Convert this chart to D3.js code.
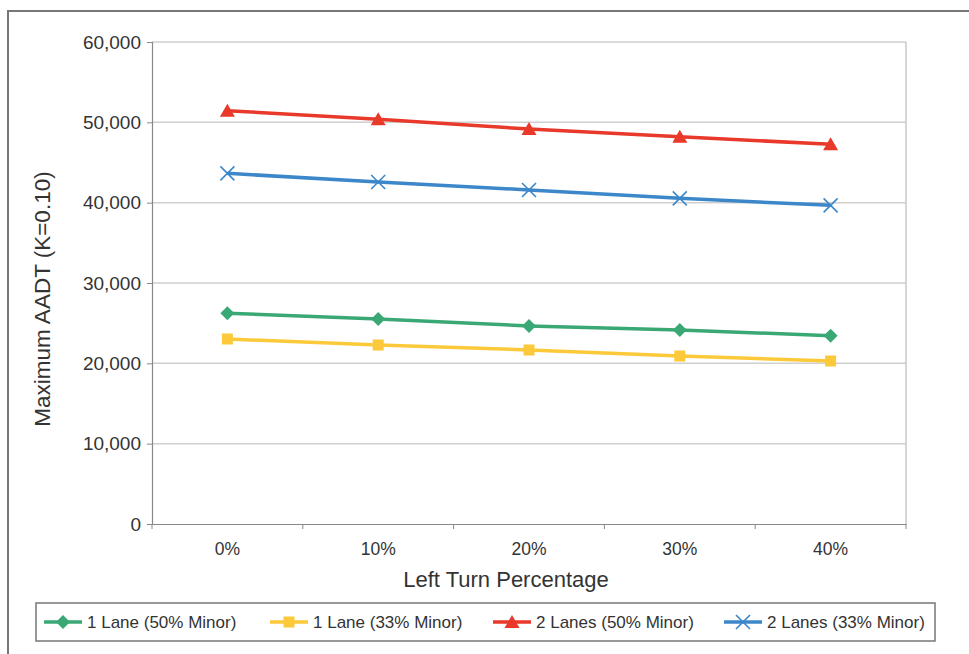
<!DOCTYPE html>
<html>
<head>
<meta charset="utf-8">
<script src="https://cdn.jsdelivr.net/npm/d3@7"></script>
<style>
  html, body { margin: 0; padding: 0; background: #fff; }
  svg { display: block; }
  text { font-family: "Liberation Sans", Arial, sans-serif; fill: #333; }
</style>
</head>
<body>
<svg id="chart" width="969" height="654"></svg>
<script>
const categories = ["0%", "10%", "20%", "30%", "40%"];
const yTicks = [0, 10000, 20000, 30000, 40000, 50000, 60000];
const seriesNames = ["1 Lane (50% Minor)", "1 Lane (33% Minor)", "2 Lanes (50% Minor)", "2 Lanes (33% Minor)"];
const lane1Minor50 = [26230, 25520, 24650, 24150, 23440];
const lane1Minor33 = [23030, 22280, 21660, 20910, 20290];
const lanes2Minor50 = [51450, 50380, 49170, 48210, 47260];
const lanes2Minor33 = [43650, 42570, 41580, 40540, 39670];
const seriesColors = ["#3aa875", "#fcc93a", "#e8392b", "#3b87c9"];
const seriesMarkers = ["diamond", "square", "triangle", "x"];
const seriesValues = [lane1Minor50, lane1Minor33, lanes2Minor50, lanes2Minor33];

(function () {
const svg = d3.select("#chart");
const fmt = d3.format(",");

// outer frame
svg.append("path").attr("d", "M8,654 V11 H969")
  .attr("fill", "none").attr("stroke", "#777").attr("stroke-width", 2);

const pLeft = 152, pRight = 906, pTop = 42, pBottom = 524;
const x = d3.scaleBand().domain(categories).range([pLeft, pRight]);
const y = d3.scaleLinear().domain([0, 60000]).range([pBottom, pTop]);

// grid
svg.append("g").selectAll("line").data(yTicks.filter(d => d > 0)).join("line")
  .attr("x1", pLeft).attr("x2", pRight)
  .attr("y1", d => y(d)).attr("y2", d => y(d))
  .attr("stroke", "#cfcfcf").attr("stroke-width", 1.5);
svg.append("line").attr("x1", pRight).attr("x2", pRight).attr("y1", pTop).attr("y2", pBottom)
  .attr("stroke", "#c8c8c8").attr("stroke-width", 1.5);

// y axis
const yAxis = svg.append("g").attr("transform", `translate(${pLeft},0)`)
  .call(d3.axisLeft(y).tickValues(yTicks).tickFormat(fmt).tickSize(5).tickPadding(6));
yAxis.select(".domain").attr("stroke", "#888").attr("stroke-width", 1.2);
yAxis.selectAll(".tick line").attr("stroke", "#888");
yAxis.selectAll("text").attr("font-size", 19).style("fill", "#333");

// x axis
const xAxis = svg.append("g").attr("transform", `translate(0,${pBottom})`)
  .call(d3.axisBottom(x).tickSize(0).tickPadding(19));
xAxis.select(".domain").attr("stroke", "#888").attr("stroke-width", 1.2);
xAxis.selectAll("text").attr("font-size", 17.5).style("fill", "#333");
const bounds = categories.map(c => x(c)).concat([x(categories[categories.length-1]) + x.bandwidth()]);
svg.append("g").selectAll("line").data(bounds).join("line")
  .attr("x1", d => d).attr("x2", d => d).attr("y1", pBottom).attr("y2", pBottom + 5)
  .attr("stroke", "#888");

// axis titles
svg.append("text").attr("x", 506).attr("y", 587).attr("text-anchor", "middle")
  .attr("font-size", 22).text("Left Turn Percentage");
svg.append("text").attr("transform", "translate(42,299) rotate(-90)")
  .attr("text-anchor", "middle").attr("dominant-baseline", "central")
  .attr("font-size", 22.5).text("Maximum AADT (K=0.10)");

function drawMarker(g, type, color, cx, cy) {
  if (type === "diamond") {
    g.append("path").attr("d", `M${cx},${cy-7} L${cx+7},${cy} L${cx},${cy+7} L${cx-7},${cy} Z`).attr("fill", color);
  } else if (type === "square") {
    g.append("rect").attr("x", cx-5.5).attr("y", cy-5.5).attr("width", 11).attr("height", 11).attr("fill", color);
  } else if (type === "triangle") {
    g.append("path").attr("d", `M${cx},${cy-7} L${cx+7.5},${cy+6} L${cx-7.5},${cy+6} Z`).attr("fill", color);
  } else {
    g.append("path").attr("d", `M${cx-7},${cy-7} L${cx+7},${cy+7} M${cx-7},${cy+7} L${cx+7},${cy-7}`)
      .attr("stroke", color).attr("stroke-width", 1.6).attr("fill", "none");
  }
}

const line = d3.line().x((d, i) => x(categories[i]) + x.bandwidth() / 2).y(d => y(d));
seriesValues.forEach((vals, si) => {
  const g = svg.append("g");
  g.append("path").attr("d", line(vals)).attr("fill", "none")
    .attr("stroke", seriesColors[si]).attr("stroke-width", 3.5);
  vals.forEach((v, i) => drawMarker(g, seriesMarkers[si], seriesColors[si], x(categories[i]) + x.bandwidth() / 2, y(v)));
});

// legend
svg.append("rect").attr("x", 36).attr("y", 603).attr("width", 899).attr("height", 38)
  .attr("fill", "#fff").attr("stroke", "#777").attr("stroke-width", 1.5);
const legendX = [44, 270, 493, 724];
seriesNames.forEach((name, si) => {
  const g = svg.append("g");
  const ly = 622;
  g.append("line").attr("x1", legendX[si]).attr("x2", legendX[si] + 38).attr("y1", ly).attr("y2", ly)
    .attr("stroke", seriesColors[si]).attr("stroke-width", 3.5);
  drawMarker(g, seriesMarkers[si], seriesColors[si], legendX[si] + 19, ly);
  g.append("text").attr("x", legendX[si] + 43).attr("y", ly).attr("dominant-baseline", "central")
    .attr("font-size", 17).text(name);
});
})();
</script>
</body>
</html>
